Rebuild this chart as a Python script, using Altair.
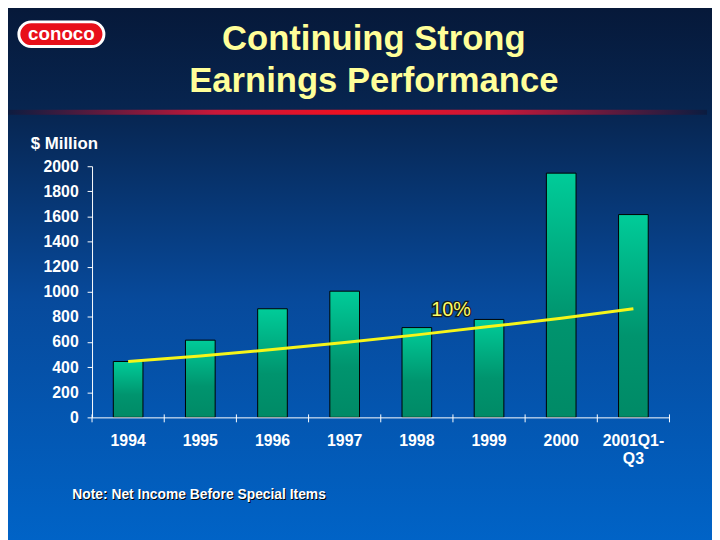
import altair as alt
import pandas as pd

years = ["1994", "1995", "1996", "1997", "1998", "1999", "2000", "2001Q1-\nQ3"]
earnings = [445, 615, 865, 1005, 715, 780, 1945, 1615]
trend = [445, 488, 540, 597, 657, 723, 789, 865]
y_ticks = [0, 200, 400, 600, 800, 1000, 1200, 1400, 1600, 1800, 2000]

df = pd.DataFrame({"year": years, "value": earnings, "trend": trend})
one = pd.DataFrame({"a": [0]})

W, H = 584, 254
PL, PT, PR, PB = 85, 157, 43, 121
FONT = "Liberation Sans"

base = alt.Chart(df)

bg = alt.Chart(one).mark_rect(
    fill={"gradient": "linear", "x1": 0, "y1": 0, "x2": 0, "y2": 1,
          "stops": [{"offset": 0, "color": "#061838"},
                    {"offset": 0.2, "color": "#072550"},
                    {"offset": 0.55, "color": "#074a9c"},
                    {"offset": 1, "color": "#0064c8"}]}
).encode(x=alt.value(-PL - 10), x2=alt.value(W + PR + 10),
         y=alt.value(-PT - 10), y2=alt.value(H + PB + 10))

redline = alt.Chart(one).mark_rect(
    fill={"gradient": "linear", "x1": 0, "y1": 0, "x2": 1, "y2": 0,
          "stops": [{"offset": 0, "color": "#0a1c40"},
                    {"offset": 0.3, "color": "#c8183a"},
                    {"offset": 0.5, "color": "#f01020"},
                    {"offset": 0.7, "color": "#c8183a"},
                    {"offset": 1, "color": "#0a1c40"}]}
).encode(x=alt.value(-88), x2=alt.value(622), y=alt.value(-57), y2=alt.value(-52))

logo = alt.Chart(one).mark_rect(
    fill="#e8101a", stroke="white", strokeWidth=3, cornerRadius=13
).encode(x=alt.value(-74), x2=alt.value(12), y=alt.value(-146), y2=alt.value(-121))

logo_text = alt.Chart(one).mark_text(
    text="conoco", font=FONT, fontWeight="bold", fontSize=19, color="white",
    align="center", baseline="middle"
).encode(x=alt.value(-31), y=alt.value(-134))

title1 = alt.Chart(one).mark_text(
    text="Continuing Strong", font=FONT, fontWeight="bold", fontSize=35,
    color="#ffff99", align="center", baseline="alphabetic"
).encode(x=alt.value(285), y=alt.value(-118))

title2 = alt.Chart(one).mark_text(
    text="Earnings Performance", font=FONT, fontWeight="bold", fontSize=35,
    color="#ffff99", align="center", baseline="alphabetic"
).encode(x=alt.value(285), y=alt.value(-75))

ylab = alt.Chart(one).mark_text(
    text="$ Million", font=FONT, fontWeight="bold", fontSize=17,
    color="white", align="left", baseline="alphabetic"
).encode(x=alt.value(-62), y=alt.value(-17))

note_shadow = alt.Chart(one).mark_text(
    text="Note: Net Income Before Special Items", font=FONT, fontWeight="bold",
    fontSize=14, color="black", align="left", baseline="middle"
).encode(x=alt.value(-19), y=alt.value(334))

note = alt.Chart(one).mark_text(
    text="Note: Net Income Before Special Items", font=FONT, fontWeight="bold",
    fontSize=14, color="white", align="left", baseline="middle"
).encode(x=alt.value(-20), y=alt.value(333))

xscale = alt.Scale(paddingInner=43 / 73, paddingOuter=43 / 146)
xaxis = alt.Axis(title=None, labelExpr="split(datum.label, '\\n')",
                 labelAngle=0, labelFont=FONT, labelFontWeight="bold",
                 labelFontSize=16, labelColor="white", labelPadding=15,
                 labelLineHeight=19, ticks=False, domainColor="white",
                 domainWidth=1, labelBaseline="top", zindex=1)
xenc = alt.X("year:N", sort=None, scale=xscale, axis=xaxis)

yscale = alt.Scale(domain=[0, 2000], nice=False)
yaxis = alt.Axis(title=None, values=y_ticks, tickCount=20, format="d",
                 labelOverlap=False, labelFont=FONT,
                 labelFontWeight="bold", labelFontSize=16,
                 labelColor="white", tickColor="white", tickSize=5,
                 labelPadding=9, domainColor="white", grid=False, zindex=1)

bars = base.mark_bar(
    fill={"gradient": "linear", "x1": 0, "y1": 0, "x2": 0, "y2": 1,
          "stops": [{"offset": 0, "color": "#00cc99"},
                    {"offset": 0.6, "color": "#00946e"},
                    {"offset": 1, "color": "#008a66"}]},
    stroke="black", strokeWidth=1
).encode(
    x=xenc,
    y=alt.Y("value:Q", scale=yscale, axis=yaxis),
)

line = base.mark_line(color="#f5f51a", strokeWidth=3).encode(
    x=xenc, y=alt.Y("trend:Q", scale=yscale, axis=yaxis)
)

ticks = base.mark_rule(color="white", strokeWidth=1, xOffset=-36.5).encode(
    x=xenc, y=alt.value(H - 3), y2=alt.value(H + 5)
)
last_tick = alt.Chart(one).mark_rule(color="white", strokeWidth=1).encode(
    x=alt.value(W), y=alt.value(H - 3), y2=alt.value(H + 5)
)

pct_shadow = alt.Chart(one).mark_text(
    text="10%", font=FONT, fontSize=20, color="#1a1a1a", stroke="#1a1a1a",
    strokeWidth=2.5, align="center", baseline="middle"
).encode(x=alt.value(363), y=alt.value(145))
pct = alt.Chart(one).mark_text(
    text="10%", font=FONT, fontSize=20, color="#ffff66",
    align="center", baseline="middle"
).encode(x=alt.value(363), y=alt.value(145))

chart = alt.layer(
    bg, redline, logo, logo_text, title1, title2, ylab, note_shadow, note,
    bars, line, ticks, last_tick, pct_shadow, pct
).properties(
    width=W, height=H,
    autosize=alt.AutoSizeParams(type="none"),
    padding={"left": PL, "top": PT, "right": PR, "bottom": PB},
    background="#0064c8",
).configure_view(stroke=None)

chart.save("out.html", embed_options={"renderer": "svg", "actions": False})
